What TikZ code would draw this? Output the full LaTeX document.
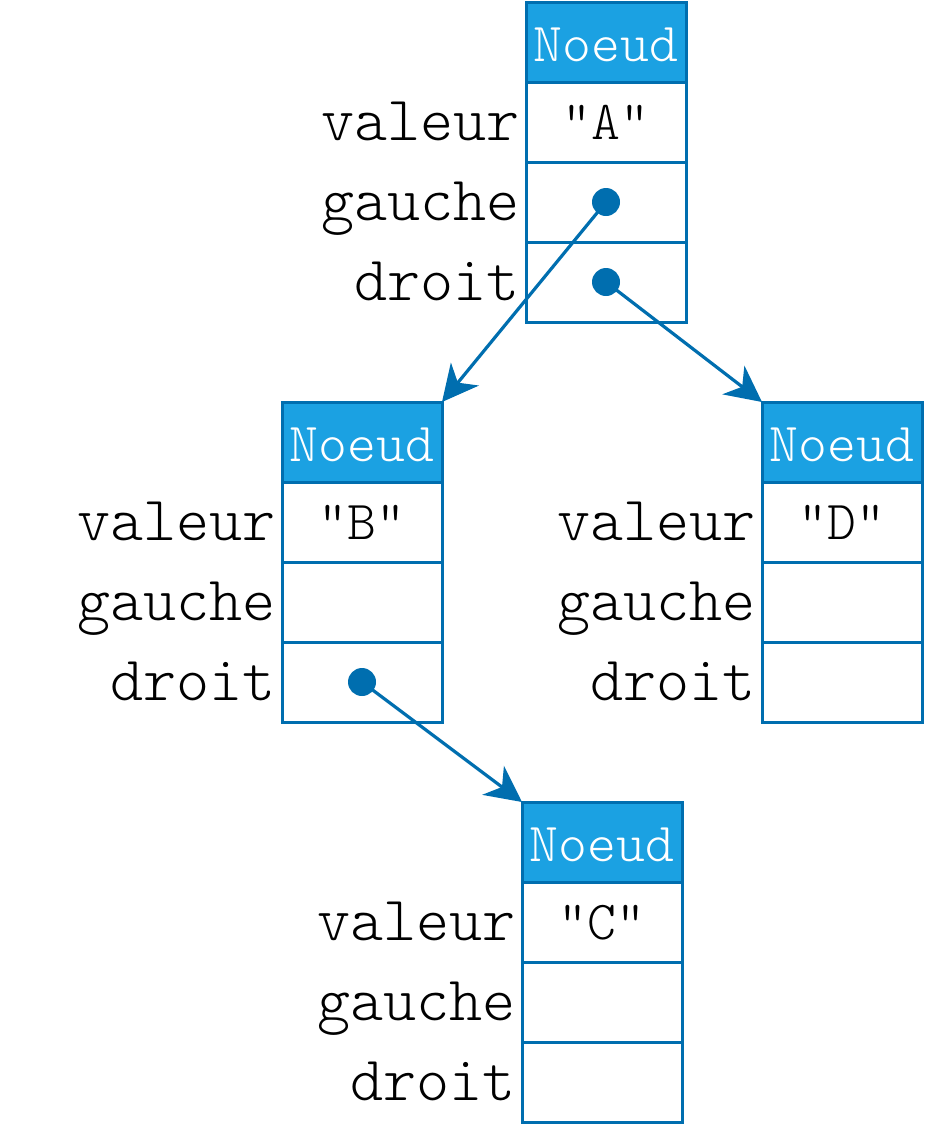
\documentclass[tikz,border=0pt]{standalone}
\usepackage{fontspec}
\setmonofont{Latin Modern Mono Light}
\usetikzlibrary{arrows.meta,calc}
\definecolor{strk}{HTML}{006EAF}
\definecolor{hfill}{HTML}{1BA1E2}
\tikzset{
  cellbox/.style={draw=strk, line width=3pt, minimum width=160pt, minimum height=80pt, inner sep=0pt, outer sep=0pt, anchor=north, font=\ttfamily\fontsize{55}{60}\selectfont, text height=34pt, text depth=0pt},
  hdrbox/.style={cellbox, fill=hfill, text=white, text height=38pt},
  lbl/.style={anchor=base east, inner sep=0pt, font=\ttfamily\fontsize{63}{68}\selectfont},
  ptr/.style={circle, fill=strk, minimum size=28pt, inner sep=0pt},
  conn/.style={draw=strk, line width=3.2pt, -{Stealth[length=36pt,width=36pt,inset=11pt]}}
}
\newcommand\structnode[3]{%
  \node[hdrbox, anchor=north west] (#1h) at (#2) {Noeud};
  \node[cellbox] (#1v) at (#1h.south) {"#3"};
  \node[cellbox] (#1g) at (#1v.south) {};
  \node[cellbox] (#1d) at (#1g.south) {};
  \node[lbl] (#1lv) at ($(#1v.west)+(-6,18)$) {valeur};
  \node[lbl] (#1lg) at ($(#1g.west)+(-6,18)$) {gauche};
  \node[lbl] (#1ld) at ($(#1d.west)+(-6,18)$) {droit};
}
\begin{document}
\begin{tikzpicture}[x=1pt,y=-1pt]
\useasboundingbox (0,0) rectangle (928,1128);
\structnode{A}{526,2}{A}
\structnode{B}{282,402}{B}
\structnode{D}{762,402}{D}
\structnode{C}{522,802}{C}
\node[ptr] (Agp) at (Ag.center) {};
\node[ptr] (Adp) at (Ad.center) {};
\node[ptr] (Bdp) at (Bd.center) {};
\draw[conn] (Agp.center) -- (Bh.north east);
\draw[conn] (Adp.center) -- (Dh.north west);
\draw[conn] (Bdp.center) -- (Ch.north west);
\end{tikzpicture}
\end{document}
